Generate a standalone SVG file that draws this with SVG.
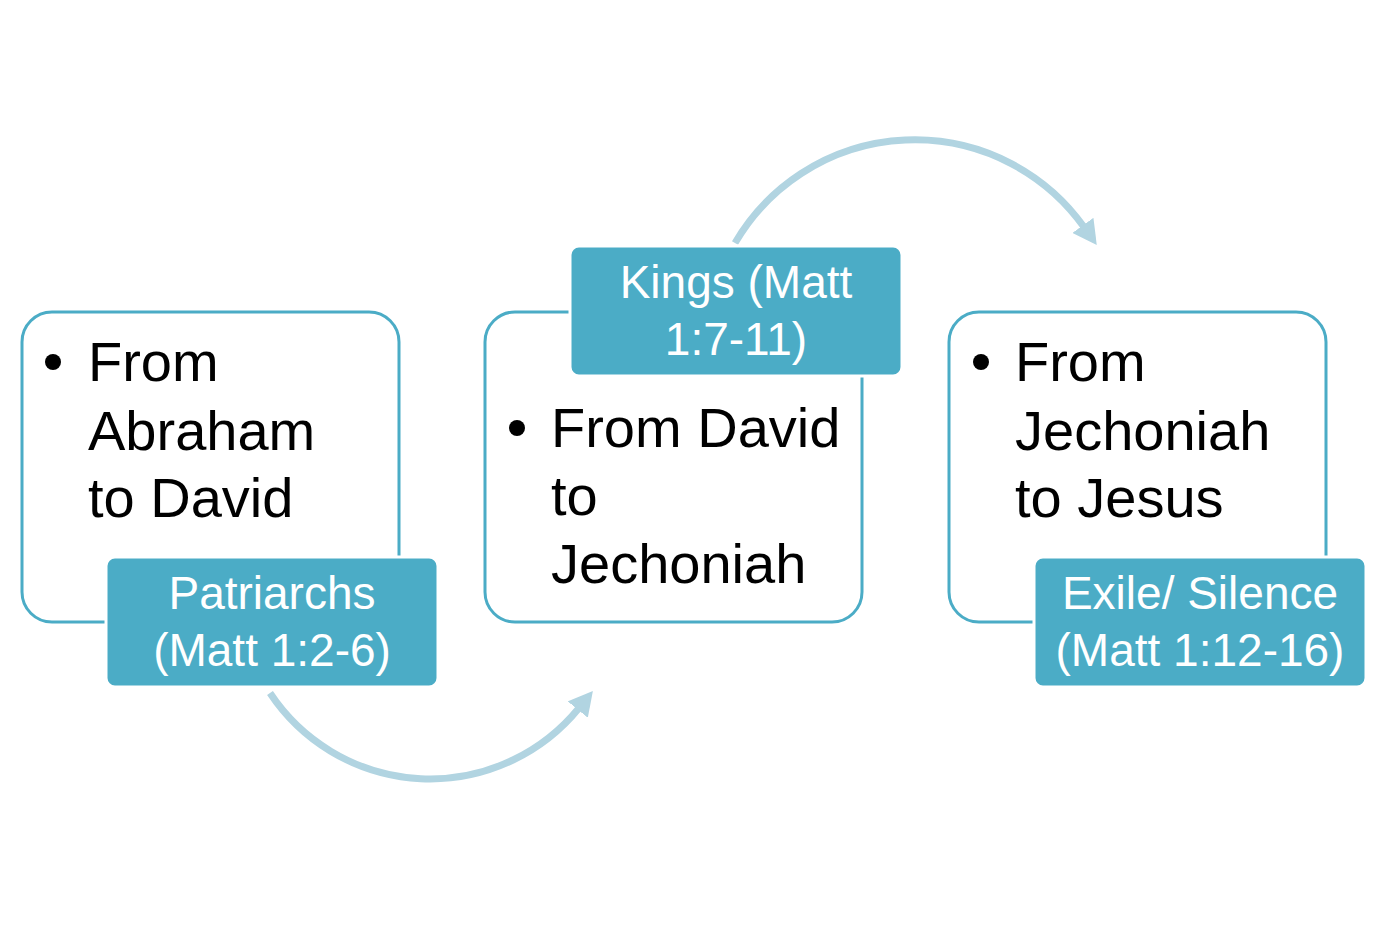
<svg xmlns="http://www.w3.org/2000/svg" width="1386" height="934" viewBox="0 0 1386 934">
<style>
.outer{fill:#ffffff;stroke:#4bacc6;stroke-width:3}
.lab{fill:#4bacc6;stroke:#ffffff;stroke-width:3}
.body{font-family:"Liberation Sans",Arial,sans-serif;font-size:56px;fill:#000000}
.lt{font-family:"Liberation Sans",Arial,sans-serif;font-size:46px;fill:#ffffff;text-anchor:middle}
.arc{fill:none;stroke:#b1d4e1;stroke-width:7}
</style>
<defs>
<marker id="ah" markerUnits="userSpaceOnUse" markerWidth="24" markerHeight="26" refX="2" refY="13" orient="auto">
<path d="M0,0 L24,13 L0,26 z" fill="#b1d4e1"/>
</marker>
</defs>
<rect width="1386" height="934" fill="#ffffff"/>
<g id="connectors">
<path class="arc" d="M270,693 A192,192 0 0 0 579,708" marker-end="url(#ah)"/>
<path class="arc" d="M735,243 A208,208 0 0 1 1084,227" marker-end="url(#ah)"/>
</g>
<g id="node1">
<rect class="outer" x="22" y="312" width="377" height="310" rx="30"/>
<circle cx="53" cy="362" r="8"/>
<text class="body" x="88" y="381">From</text>
<text class="body" x="88" y="450">Abraham</text>
<text class="body" x="88" y="517">to David</text>
</g>
<g id="label1">
<rect class="lab" x="106" y="557" width="332" height="130" rx="9"/>
<text class="lt" x="272" y="609">Patriarchs</text>
<text class="lt" x="272" y="666">(Matt 1:2-6)</text>
</g>
<g id="node2">
<rect class="outer" x="485" y="312" width="377" height="310" rx="30"/>
<circle cx="517" cy="428" r="8"/>
<text class="body" x="551" y="447">From David</text>
<text class="body" x="551" y="515">to</text>
<text class="body" x="551" y="583">Jechoniah</text>
</g>
<g id="label2">
<rect class="lab" x="570" y="246" width="332" height="130" rx="9"/>
<text class="lt" x="736" y="298">Kings (Matt</text>
<text class="lt" x="736" y="355">1:7-11)</text>
</g>
<g id="node3">
<rect class="outer" x="949" y="312" width="377" height="310" rx="30"/>
<circle cx="981" cy="362" r="8"/>
<text class="body" x="1015" y="381">From</text>
<text class="body" x="1015" y="450">Jechoniah</text>
<text class="body" x="1015" y="517">to Jesus</text>
</g>
<g id="label3">
<rect class="lab" x="1034" y="557" width="332" height="130" rx="9"/>
<text class="lt" x="1200" y="609">Exile/ Silence</text>
<text class="lt" x="1200" y="666">(Matt 1:12-16)</text>
</g>
</svg>
